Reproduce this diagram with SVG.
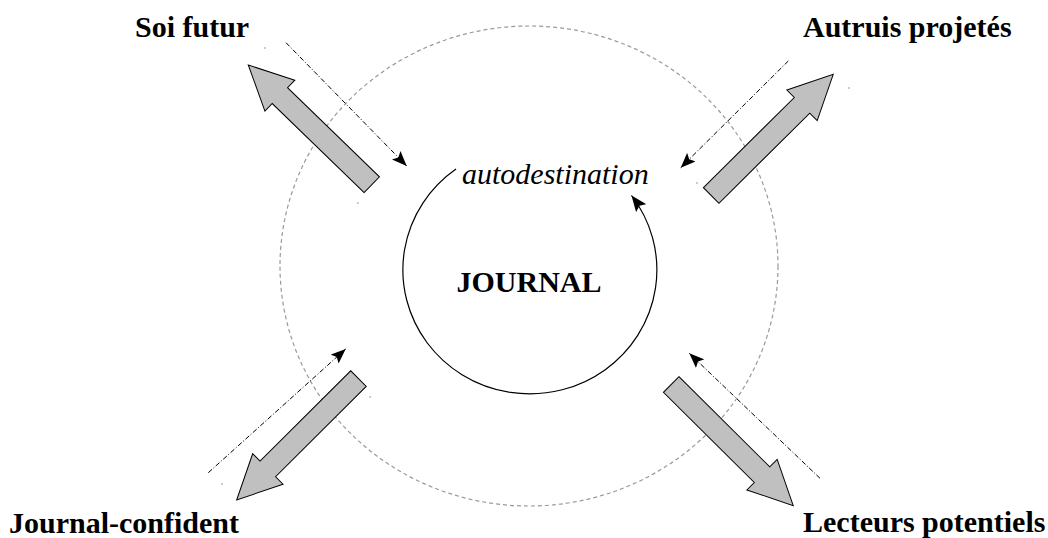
<svg xmlns="http://www.w3.org/2000/svg" xmlns:xlink="http://www.w3.org/1999/xlink" width="1048" height="538" viewBox="0 0 1048 538">
  <style>
    .lbl { font-family: "Liberation Serif", "Times New Roman", serif; font-size: 30px; font-weight: bold; fill: #000; }
    .ital { font-family: "Liberation Serif", "Times New Roman", serif; font-size: 30px; font-style: italic; fill: #000; }
    .big { fill: #c0c0c0; stroke: #000; stroke-width: 1; stroke-linejoin: miter; }
    .flow { fill: none; stroke: #000; stroke-width: 1; stroke-dasharray: 5 2 1 2; marker-end: url(#head); }
    .halo { fill: none; stroke: #9a9a9a; stroke-width: 1.2; stroke-dasharray: 4 3; }
    .dot { fill: #888; }
  </style>
  <defs>
    <marker id="head" markerUnits="userSpaceOnUse" markerWidth="16" markerHeight="12" refX="15" refY="6" orient="auto">
      <path d="M0,0 L15,6 L0,12 L3,6 z" fill="#000"/>
    </marker>
    <marker id="head2" markerUnits="userSpaceOnUse" markerWidth="18" markerHeight="13" refX="16" refY="6.5" orient="auto">
      <path d="M0,0 L16,6.5 L0,13 L3,6.5 z" fill="#000"/>
    </marker>
    <polygon id="bigArrow" class="big" points="0,-11 128,-11 128,-21.5 172,0 128,21.5 128,11 0,11"/>
  </defs>

  <rect width="1048" height="538" fill="#fff"/>

  <ellipse class="halo" cx="529" cy="266" rx="249" ry="240"/>

  <g id="journal">
    <path d="M456,169 A127,124 0 1 0 631.5,195.5" fill="none" stroke="#000" stroke-width="1.2" marker-end="url(#head2)"/>
    <text class="lbl" x="529" y="292" text-anchor="middle">JOURNAL</text>
    <text class="ital" x="462" y="184">autodestination</text>
  </g>

  <g id="soi-futur">
    <use xlink:href="#bigArrow" transform="translate(371.8,184.7) rotate(224.1)"/>
    <text class="lbl" x="135" y="37">Soi futur</text>
  </g>

  <g id="autruis-projetes">
    <use xlink:href="#bigArrow" transform="translate(711.2,195.5) rotate(-44.8)"/>
    <text class="lbl" x="803" y="37">Autruis projetés</text>
  </g>

  <g id="journal-confident">
    <use xlink:href="#bigArrow" transform="translate(358.5,378.6) rotate(135.1)"/>
    <text class="lbl" x="9" y="533">Journal-confident</text>
  </g>

  <g id="lecteurs-potentiels">
    <use xlink:href="#bigArrow" transform="translate(671.2,384.5) rotate(44.8)"/>
    <text class="lbl" x="803" y="532">Lecteurs potentiels</text>
  </g>

  <g id="connectors">
    <line class="flow" x1="286" y1="42.7" x2="406.7" y2="166"/>
    <line class="flow" x1="788.3" y1="61" x2="680.7" y2="167.7"/>
    <line class="flow" x1="208.3" y1="472.7" x2="345.7" y2="349"/>
    <line class="flow" x1="820" y1="478.3" x2="689.3" y2="353.3"/>
  </g>

  <g id="marks">
    <circle class="dot" cx="265" cy="48" r="0.8"/>
    <circle class="dot" cx="358" cy="203" r="0.8"/>
    <circle class="dot" cx="849" cy="88" r="0.8"/>
    <circle class="dot" cx="697" cy="183" r="0.8"/>
    <circle class="dot" cx="370" cy="397" r="0.8"/>
    <circle class="dot" cx="222" cy="484" r="0.8"/>
  </g>
</svg>
